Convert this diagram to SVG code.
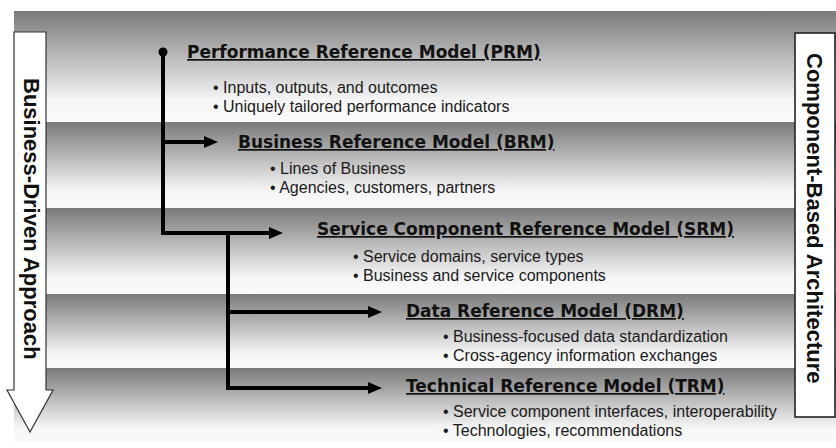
<svg xmlns="http://www.w3.org/2000/svg" width="836" height="448" viewBox="0 0 836 448">
<defs>
<linearGradient id="band" x1="0" y1="0" x2="0" y2="1">
<stop offset="0" stop-color="#7a7a7a"/>
<stop offset="0.8" stop-color="#f5f5f5"/>
<stop offset="1" stop-color="#fbfbfb"/>
</linearGradient>
<marker id="ah" markerUnits="userSpaceOnUse" markerWidth="14" markerHeight="12" refX="1" refY="6" orient="auto">
<path d="M0,0 L14,6 L0,12 z" fill="#000"/>
</marker>
<style>
.title{font-family:"DejaVu Sans",Verdana,sans-serif;font-weight:bold;font-size:17px;fill:#111;text-decoration:underline;}
.bul{font-family:"Liberation Sans",Arial,sans-serif;font-size:16px;fill:#1a1a1a;}
.side{font-family:"Liberation Sans",Arial,sans-serif;font-weight:bold;font-size:22px;fill:#111;}
.conn{fill:none;stroke:#000;stroke-width:4;stroke-linejoin:miter;}
</style>
</defs>
<rect width="836" height="448" fill="#fff"/>
<g id="bands">
<rect x="14" y="11" width="822" height="111" fill="url(#band)"/>
<rect x="14" y="122" width="822" height="86" fill="url(#band)"/>
<rect x="14" y="208" width="822" height="86" fill="url(#band)"/>
<rect x="14" y="294" width="822" height="74" fill="url(#band)"/>
<rect x="14" y="368" width="822" height="74" fill="url(#band)"/>
</g>
<g id="business-driven">
<path d="M14,32 H46 V390 H53 L30,432 L7,390 H14 Z" fill="#fff" stroke="#333" stroke-width="1.2"/>
<text class="side" transform="translate(24,78) rotate(90)" font-size="22.2">Business-Driven Approach</text>
</g>
<g id="component-based">
<rect x="795" y="33" width="40" height="384" fill="#fff" stroke="#222" stroke-width="1.6"/>
<text class="side" transform="translate(807,53) rotate(90)" font-size="23">Component-Based Architecture</text>
</g>
<g id="connectors">
<circle cx="163" cy="52" r="4.5" fill="#000"/>
<path class="conn" d="M163,52 V233 H270" marker-end="url(#ah)"/>
<path class="conn" d="M163,142 H205" marker-end="url(#ah)"/>
<path class="conn" d="M228,233 V388 H369" marker-end="url(#ah)"/>
<path class="conn" d="M228,312 H369" marker-end="url(#ah)"/>
</g>
<g id="prm">
<text class="title" x="187" y="58">Performance Reference Model (PRM)</text>
<text class="bul" x="213" y="93">• Inputs, outputs, and outcomes</text>
<text class="bul" x="213" y="112">• Uniquely tailored performance indicators</text>
</g>
<g id="brm">
<text class="title" x="238" y="148">Business Reference Model (BRM)</text>
<text class="bul" x="270" y="174">• Lines of Business</text>
<text class="bul" x="270" y="193">• Agencies, customers, partners</text>
</g>
<g id="srm">
<text class="title" x="317" y="235">Service Component Reference Model (SRM)</text>
<text class="bul" x="353" y="262">• Service domains, service types</text>
<text class="bul" x="353" y="281">• Business and service components</text>
</g>
<g id="drm">
<text class="title" x="406" y="317">Data Reference Model (DRM)</text>
<text class="bul" x="443" y="342">• Business-focused data standardization</text>
<text class="bul" x="443" y="361">• Cross-agency information exchanges</text>
</g>
<g id="trm">
<text class="title" x="406" y="392">Technical Reference Model (TRM)</text>
<text class="bul" x="443" y="417">• Service component interfaces, interoperability</text>
<text class="bul" x="443" y="436">• Technologies, recommendations</text>
</g>
</svg>
